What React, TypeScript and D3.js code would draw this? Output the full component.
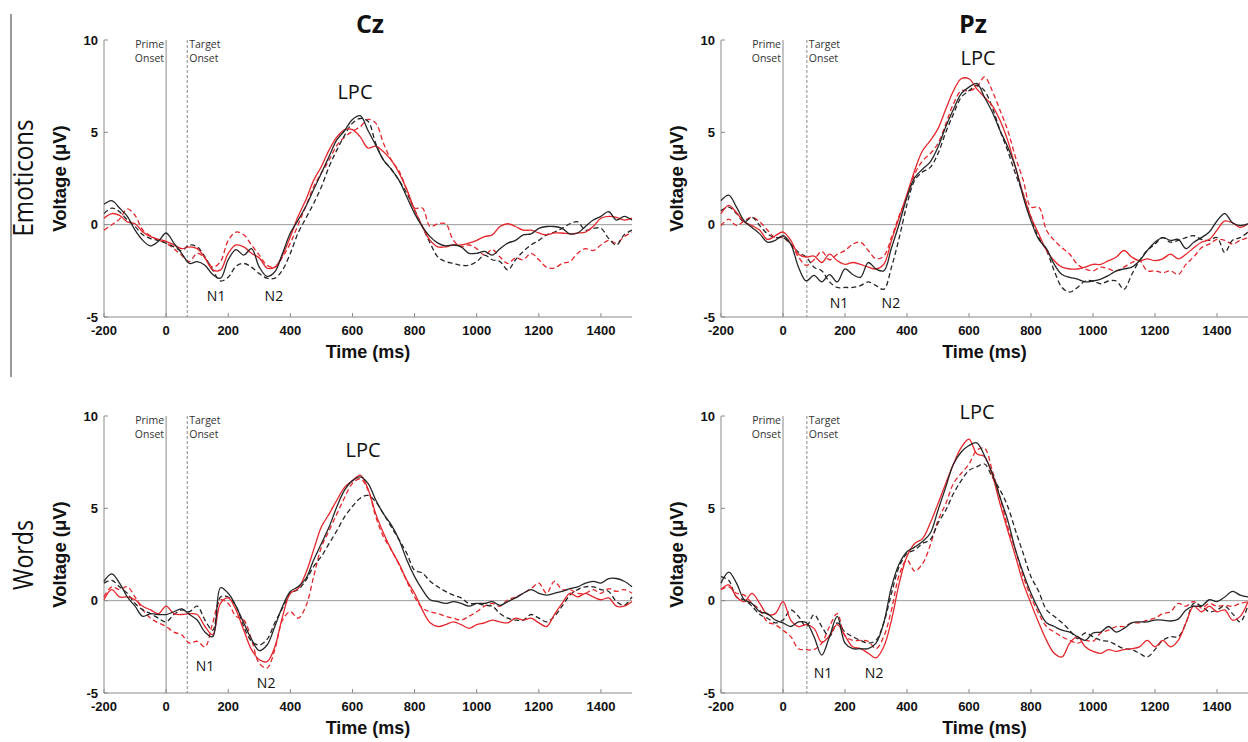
import React from 'react';
import * as d3 from 'd3';

// ---------- data ----------
const TIMES = d3.range(-200, 1501, 25); // ms, sampling grid of the traces
const X_TICKS = [-200, 0, 200, 400, 600, 800, 1000, 1200, 1400];
const Y_TICKS = [-5, 0, 5, 10];
const ELECTRODES = ['Cz', 'Pz'];
const ROWS = ['Emoticons', 'Words'];

// Cz – Emoticons
const czEmoBlackSolid = [
  1.1, 1.3, 0.9, 0.45, -0.3, -0.85, -1.15, -0.9,
  -0.45, -1.0, -1.55, -2.1, -2.0, -2.2, -2.7, -2.9,
  -1.9, -1.35, -1.65, -1.3, -2.3, -2.8, -2.55, -1.55,
  -0.45, 0.25, 1.0, 1.9, 2.8, 3.7, 4.6, 5.1,
  5.7, 5.9, 5.1, 4.3, 3.5, 3.0, 2.4, 1.5,
  0.6, -0.1, -0.65, -1.0, -1.15, -1.1, -1.2, -1.55,
  -1.55, -1.45, -1.65, -1.3, -1.0, -0.85, -0.55, -0.5,
  -0.2, -0.1, -0.1, -0.2, -0.5, -0.45, -0.1, 0.25,
  0.45, 0.7, 0.25, 0.45, 0.25,
];
const czEmoBlackDashed = [
  0.6, 0.9, 0.7, 0.25, -0.1, -0.55, -0.75, -0.85,
  -1.0, -1.2, -1.4, -1.1, -1.2, -1.75, -2.45, -3.05,
  -2.85, -2.25, -2.1, -2.3, -2.65, -2.9, -2.9, -2.45,
  -1.55, -0.45, 0.35, 1.15, 2.05, 3.15, 4.05, 4.85,
  5.5, 5.75, 5.6, 4.4, 3.5, 3.0, 2.4, 1.7,
  0.8, -0.1, -1.0, -1.75, -2.0, -2.1, -2.2, -2.2,
  -2.0, -1.65, -1.9, -2.0, -2.45, -1.9, -1.45, -1.1,
  -0.85, -0.55, -0.4, -0.2, 0.05, 0.15, -0.3, -0.2,
  -0.2, -0.75, -1.1, -0.55, -0.3,
];
const czEmoRedSolid = [
  0.35, 0.6, 0.5, 0.15, 0.05, -0.4, -0.65, -0.8,
  -0.9, -1.1, -1.3, -1.2, -1.3, -1.8, -2.45, -2.45,
  -1.55, -1.1, -1.2, -1.55, -1.8, -2.35, -2.3, -1.65,
  -0.65, 0.45, 1.35, 2.4, 3.15, 4.05, 4.75, 5.15,
  5.15, 4.75, 4.15, 4.25, 3.95, 3.5, 2.8, 1.9,
  0.8, -0.1, -0.85, -1.2, -1.2, -1.1, -1.1, -1.0,
  -0.85, -0.65, -0.55, -0.1, 0.05, -0.1, -0.3, -0.3,
  -0.45, -0.55, -0.45, -0.45, -0.5, -0.45, -0.4, -0.1,
  0.35, 0.45, 0.4, 0.25, 0.35,
];
const czEmoRedDashed = [
  -0.3, 0.0, 0.3, 0.85, 0.5, -0.3, -0.6, -0.85,
  -1.0, -1.3, -1.65, -2.0, -1.55, -1.8, -2.3, -2.0,
  -0.85, -0.4, -0.55, -1.1, -1.65, -2.2, -2.3, -1.75,
  -1.0, 0.0, 1.0, 2.05, 2.8, 3.5, 4.3, 4.75,
  5.05, 5.3, 5.7, 5.5, 4.4, 3.5, 2.9, 1.9,
  0.9, 0.9, -0.1, 0.05, 0.05, -0.85, -1.2, -1.1,
  -1.3, -1.65, -1.35, -1.75, -2.1, -1.8, -1.9, -1.55,
  -1.9, -2.3, -2.35, -2.1, -2.0, -1.55, -1.3, -1.4,
  -1.1, -0.85, -1.0, -0.65, -0.4,
];

// Pz – Emoticons
const pzEmoBlackSolid = [
  1.3, 1.6, 0.95, 0.2, -0.15, -0.5, -0.95, -0.85,
  -0.6, -1.05, -2.3, -3.05, -2.75, -3.1, -2.7, -3.1,
  -2.4, -2.7, -2.85, -2.05, -2.4, -2.5, -1.25, 0.05,
  1.5, 2.55, 3.0, 3.4, 4.2, 5.3, 6.25, 7.1,
  7.45, 7.65, 6.9, 6.1, 5.1, 4.2, 3.1, 1.5,
  0.2, -0.8, -1.3, -2.15, -2.7, -2.85, -2.95, -3.1,
  -3.05, -2.95, -2.75, -2.5, -2.4, -2.3, -1.95, -1.4,
  -0.95, -0.7, -0.85, -0.8, -1.3, -0.95, -0.7, -0.4,
  0.2, 0.6, 0.1, -0.05, 0.05,
];
const pzEmoBlackDashed = [
  0.75, 0.95, 0.6, 0.15, 0.4, -0.05, -0.5, -0.7,
  -0.7, -1.05, -1.5, -1.75, -2.3, -2.5, -3.1, -3.4,
  -3.4, -3.4, -3.3, -3.1, -3.3, -3.5, -2.3, -0.7,
  1.1, 2.4, 2.85, 3.1, 3.85, 5.0, 6.0, 6.9,
  7.25, 7.55, 7.25, 6.35, 5.1, 4.0, 2.75, 1.65,
  0.4, -0.7, -1.4, -2.5, -3.4, -3.65, -3.4, -3.05,
  -3.05, -3.2, -3.05, -3.05, -3.5, -2.7, -1.95, -1.4,
  -1.05, -0.7, -0.95, -0.85, -0.7, -0.6, -0.8, -0.85,
  -0.7, -1.5, -0.85, -0.7, -0.4,
];
const pzEmoRedSolid = [
  0.6, 1.05, 0.65, 0.15, -0.05, -0.3, -0.8, -0.6,
  -0.4, -0.85, -1.6, -1.75, -1.7, -2.05, -1.6, -1.95,
  -2.15, -2.05, -2.15, -2.3, -2.4, -2.15, -0.85, 0.4,
  1.65, 2.95, 4.0, 4.55, 5.2, 6.25, 7.25, 7.9,
  7.9, 7.35, 6.9, 6.45, 5.65, 4.55, 3.1, 1.65,
  0.4, -0.5, -1.4, -1.95, -2.3, -2.4, -2.4, -2.3,
  -2.15, -2.15, -1.95, -1.75, -1.4, -1.75, -1.95, -1.85,
  -1.95, -1.85, -1.6, -1.85, -1.6, -1.25, -0.95, -0.8,
  -0.3, 0.2, 0.1, -0.15, 0.05,
];
const pzEmoRedDashed = [
  -0.05, 0.3, -0.05, 0.2, 0.4, 0.15, -0.3, -0.7,
  -0.7, -1.05, -1.75, -2.2, -1.9, -1.45, -1.9, -1.6,
  -1.4, -1.05, -0.95, -1.4, -1.85, -1.7, -0.7, 0.5,
  1.5, 2.75, 3.45, 3.85, 4.4, 5.45, 6.55, 7.25,
  7.25, 7.45, 8.0, 7.25, 6.2, 5.1, 3.65, 2.4,
  0.95, 0.95, -0.3, -0.85, -1.25, -1.6, -2.15, -2.4,
  -2.5, -2.3, -2.4, -2.5, -2.3, -2.05, -1.95, -2.5,
  -2.5, -2.6, -2.5, -2.7, -2.15, -1.75, -1.25, -1.05,
  -0.8, -0.85, -1.05, -0.85, -0.7,
];

// Cz – Words
const czWrdBlackSolid = [
  1.05, 1.45, 0.95, 0.2, -0.3, -0.85, -0.7, -0.75,
  -0.75, -0.6, -0.45, -0.75, -1.05, -1.7, -1.95, 0.7,
  0.4, -0.3, -1.2, -2.1, -2.7, -2.4, -1.4, -0.3,
  0.5, 0.75, 1.2, 2.2, 3.1, 4.0, 5.1, 6.0,
  6.5, 6.7, 6.35, 5.45, 4.7, 4.1, 3.3, 2.2,
  1.3, 0.6, 0.05, -0.05, -0.15, -0.05, -0.15, -0.3,
  -0.15, -0.15, -0.05, -0.25, -0.05, 0.15, 0.4, 0.6,
  0.4, 0.3, 0.4, 0.5, 0.65, 0.75, 0.95, 1.05,
  0.95, 1.2, 1.2, 1.05, 0.75,
];
const czWrdBlackDashed = [
  0.95, 1.1, 0.75, 0.4, -0.15, -0.5, -0.7, -0.95,
  -1.15, -0.75, -0.5, -0.6, -0.3, -1.05, -1.6, 0.2,
  0.2, -0.3, -1.4, -2.2, -2.4, -2.1, -1.2, -0.4,
  0.4, 0.6, 1.1, 1.85, 2.4, 3.1, 3.8, 4.55,
  5.1, 5.55, 5.7, 5.35, 4.7, 4.0, 3.3, 2.55,
  1.65, 1.5, 1.05, 0.75, 0.5, 0.3, 0.15, -0.15,
  -0.15, -0.25, -0.3, -0.7, -0.95, -1.05, -1.05, -0.75,
  -0.95, -1.15, -0.85, -0.3, 0.3, 0.6, 0.75, 0.75,
  0.6, 0.5, -0.05, -0.25, 0.2,
];
const czWrdRedSolid = [
  0.05, 0.6, 0.2, 0.2, 0.05, -0.3, -0.5, -0.7,
  -0.3, -0.7, -0.75, -0.7, -0.75, -1.4, -1.85, -0.15,
  0.15, -0.5, -1.6, -2.65, -3.2, -3.3, -2.5, -0.85,
  0.4, 0.65, 1.5, 2.75, 4.0, 4.7, 5.45, 6.15,
  6.5, 6.8, 6.05, 4.7, 3.65, 2.75, 2.0, 1.1,
  0.4, -0.5, -1.2, -1.4, -1.3, -1.15, -1.3, -1.5,
  -1.3, -1.2, -1.05, -1.15, -1.2, -0.95, -1.05, -0.95,
  -1.2, -1.4, -0.75, -0.15, 0.4, 0.2, 0.4, 0.2,
  0.05, 0.15, -0.3, -0.3, -0.05,
];
const czWrdRedDashed = [
  0.2, 0.75, 0.6, 0.75, 0.2, -0.5, -0.95, -1.2,
  -1.4, -1.7, -1.85, -2.3, -2.2, -2.5, -1.2, 0.05,
  -0.15, -0.85, -1.05, -2.1, -3.4, -3.65, -2.65, -1.05,
  -0.6, -0.95, -0.3, 1.3, 2.9, 3.8, 4.7, 5.6,
  6.35, 6.6, 6.0, 4.55, 3.45, 2.75, 1.95, 1.05,
  0.2, -0.4, -0.6, -0.7, -0.85, -0.95, -1.05, -0.85,
  -0.6, -0.3, -0.15, -0.3, 0.05, 0.2, 0.4, 0.65,
  0.95, 0.4, 1.05, 0.6, 0.6, 0.4, 0.4, 0.6,
  0.4, 0.65, 0.5, 0.6, 0.4,
];

// Pz – Words
const pzWrdBlackSolid = [
  0.95, 1.55, 0.95, 0.05, -0.15, -0.6, -0.7, -1.05,
  -1.2, -1.4, -1.15, -1.2, -1.95, -2.95, -1.95, -0.85,
  -2.3, -2.6, -2.6, -2.6, -2.3, -1.2, 0.75, 2.0,
  2.65, 2.9, 3.2, 3.65, 4.9, 6.15, 7.4, 8.05,
  8.4, 8.55, 7.85, 6.9, 5.6, 4.35, 2.75, 1.5,
  0.4, -0.5, -1.2, -1.4, -1.6, -1.7, -1.95, -2.15,
  -1.75, -1.7, -1.4, -1.7, -1.5, -1.2, -1.15, -1.15,
  -1.05, -1.05, -1.1, -1.0, -0.5, -0.3, -0.3, 0.05,
  -0.05, 0.2, 0.5, 0.3, 0.2,
];
const pzWrdBlackDashed = [
  1.3, 1.1, 0.2, 0.05, -0.3, -0.75, -0.95, -1.2,
  -1.05, -0.5, -0.85, -1.4, -0.75, -1.4, -1.95, -1.2,
  -1.7, -1.95, -2.15, -2.3, -2.15, -1.2, 0.4, 1.85,
  2.55, 2.75, 3.1, 3.3, 4.2, 4.9, 5.8, 6.5,
  7.05, 7.25, 7.4, 6.7, 6.0, 5.1, 3.8, 2.55,
  1.3, 0.5, -0.5, -0.85, -1.2, -1.6, -2.05, -1.75,
  -1.95, -2.15, -2.2, -2.4, -2.6, -2.65, -2.85, -3.05,
  -2.65, -2.15, -1.95, -1.95, -1.2, -0.15, -0.3, -0.6,
  -0.5, -0.3, -0.7, -1.15, -0.25,
];
const pzWrdRedSolid = [
  0.6, 0.85, 0.2, -0.05, 0.4, -0.15, -0.75, -0.7,
  -0.05, -1.05, -1.4, -1.3, -1.5, -2.25, -1.9, -1.3,
  -1.9, -2.5, -2.6, -2.85, -3.1, -2.5, -1.05, 0.95,
  2.4, 3.1, 3.35, 4.2, 5.25, 6.35, 7.4, 8.3,
  8.75, 7.95, 7.8, 6.8, 5.25, 3.8, 2.4, 0.95,
  -0.15, -1.2, -2.15, -2.85, -3.05, -2.3, -1.95, -2.5,
  -2.75, -2.85, -2.65, -2.75, -2.65, -2.6, -2.5, -2.15,
  -2.5, -2.15, -2.5, -2.15, -1.2, -0.3, -0.6, -0.3,
  -0.6, -0.5, -1.05, -0.85, -0.05,
];
const pzWrdRedDashed = [
  0.6, 0.75, 0.4, 0.3, -0.15, -0.5, -1.15, -1.3,
  -1.6, -1.95, -2.6, -2.65, -2.65, -2.3, -1.4, -0.7,
  -1.9, -2.15, -2.15, -2.2, -2.6, -1.95, -0.5, 1.4,
  2.2, 1.6, 2.0, 3.0, 4.35, 5.25, 6.35, 6.9,
  7.4, 8.15, 8.25, 7.05, 5.6, 4.0, 2.75, 1.3,
  0.2, -0.7, -1.4, -1.7, -1.95, -2.15, -2.3, -2.15,
  -2.2, -1.75, -1.6, -1.4, -1.4, -1.2, -1.2, -1.05,
  -0.95, -0.7, -0.6, -0.15, -0.3, -0.05, -0.4, -0.15,
  -0.3, -0.25, -0.3, -0.15, -0.05,
];

// component labels: [text, time (ms), voltage (µV)]
const czEmoLabels: [string, number, number][] = [['N1', 161, -3.85], ['N2', 347, -3.85], ['LPC', 608, 7.2]];
const pzEmoLabels: [string, number, number][] = [['N1', 181, -4.23], ['N2', 348, -4.23], ['LPC', 629, 9.05]];
const czWrdLabels: [string, number, number][] = [['N1', 125, -3.53], ['N2', 322, -4.45], ['LPC', 634, 8.15]];
const pzWrdLabels: [string, number, number][] = [['N1', 129, -3.91], ['N2', 294, -3.91], ['LPC', 626, 10.2]];

const TARGET_ONSET = { Cz: 68, Pz: 77 };

// ---------- styles ----------
const BLACK = '#262626';
const RED = '#e5262b';
const AXIS = '#8a8a8a';
const SANS = "'Liberation Sans', Arial, sans-serif";
const HUMAN = "'Open Sans', 'Noto Sans', sans-serif";

type Panel = {
  electrode: string;
  row: number;
  x0: number; x1: number; yTop: number; yBot: number;
  series: { values: number[]; color: string; dashed: boolean }[];
  labels: [string, number, number][];
};

const mk = (bs: number[], bd: number[], rs: number[], rd: number[]) => [
  { values: rd, color: RED, dashed: true },
  { values: bd, color: BLACK, dashed: true },
  { values: rs, color: RED, dashed: false },
  { values: bs, color: BLACK, dashed: false },
];

const PANELS: Panel[] = [
  { electrode: 'Cz', row: 0, x0: 104, x1: 632, yTop: 40, yBot: 317,
    series: mk(czEmoBlackSolid, czEmoBlackDashed, czEmoRedSolid, czEmoRedDashed), labels: czEmoLabels },
  { electrode: 'Pz', row: 0, x0: 721, x1: 1248, yTop: 40, yBot: 317,
    series: mk(pzEmoBlackSolid, pzEmoBlackDashed, pzEmoRedSolid, pzEmoRedDashed), labels: pzEmoLabels },
  { electrode: 'Cz', row: 1, x0: 104, x1: 632, yTop: 416, yBot: 693,
    series: mk(czWrdBlackSolid, czWrdBlackDashed, czWrdRedSolid, czWrdRedDashed), labels: czWrdLabels },
  { electrode: 'Pz', row: 1, x0: 721, x1: 1248, yTop: 416, yBot: 693,
    series: mk(pzWrdBlackSolid, pzWrdBlackDashed, pzWrdRedSolid, pzWrdRedDashed), labels: pzWrdLabels },
];

function ErpPanel({ p }: { p: Panel }) {
  const xs = d3.scaleLinear().domain([-200, 1500]).range([p.x0, p.x1]);
  const ys = d3.scaleLinear().domain([-5, 10]).range([p.yBot, p.yTop]);
  const line = d3
    .line<number>()
    .x((_, i) => xs(TIMES[i]))
    .y((d) => ys(d))
    .curve(d3.curveCatmullRom.alpha(0.5));
  const target = (TARGET_ONSET as any)[p.electrode] as number;
  const midX = (p.x0 + p.x1) / 2;
  const midY = (p.yTop + p.yBot) / 2;
  return (
    <g>
      {/* reference lines */}
      <line x1={p.x0} x2={p.x1} y1={ys(0)} y2={ys(0)} stroke="#9a9a9a" strokeWidth={1} />
      <line x1={xs(0)} x2={xs(0)} y1={p.yTop} y2={p.yBot} stroke="#8a8a8a" strokeWidth={1} />
      <line x1={xs(target)} x2={xs(target)} y1={p.yTop} y2={p.yBot} stroke="#8a8a8a" strokeWidth={1} strokeDasharray="3,2" />
      <text x={xs(0) - 2} y={p.yTop + 8} textAnchor="end" fontFamily={HUMAN} fontSize={10.5} fill="#333">Prime</text>
      <text x={xs(0) - 2} y={p.yTop + 22} textAnchor="end" fontFamily={HUMAN} fontSize={10.5} fill="#333">Onset</text>
      <text x={xs(target) + 2} y={p.yTop + 8} fontFamily={HUMAN} fontSize={10.5} fill="#333">Target</text>
      <text x={xs(target) + 2} y={p.yTop + 22} fontFamily={HUMAN} fontSize={10.5} fill="#333">Onset</text>

      {/* axes */}
      <line x1={p.x0} x2={p.x0} y1={p.yTop} y2={p.yBot} stroke={AXIS} strokeWidth={1} />
      <line x1={p.x0} x2={p.x1} y1={p.yBot} y2={p.yBot} stroke={AXIS} strokeWidth={1} />
      {Y_TICKS.map((t) => (
        <g key={'y' + t}>
          <line x1={p.x0} x2={p.x0 + 4} y1={ys(t)} y2={ys(t)} stroke={AXIS} />
          <text x={p.x0 - 6} y={ys(t)} dy="0.35em" textAnchor="end" fontFamily={SANS} fontWeight="bold" fontSize={13} fill="#111">{t}</text>
        </g>
      ))}
      {X_TICKS.map((t) => (
        <g key={'x' + t}>
          <line x1={xs(t)} x2={xs(t)} y1={p.yBot} y2={p.yBot - 4} stroke={AXIS} />
          <text x={xs(t)} y={p.yBot + 18} textAnchor="middle" fontFamily={SANS} fontWeight="bold" fontSize={13} fill="#111">{t}</text>
        </g>
      ))}
      <text x={midX} y={p.yBot + 41} textAnchor="middle" fontFamily={SANS} fontWeight="bold" fontSize={18} fill="#111">Time (ms)</text>
      <text transform={`translate(${p.x0 - 38},${midY}) rotate(-90)`} textAnchor="middle" fontFamily={SANS} fontWeight="bold" fontSize={18.5} fill="#111">Voltage (μV)</text>

      {/* traces */}
      {p.series.map((s, i) => (
        <path key={i} d={line(s.values) || ''} fill="none" stroke={s.color} strokeWidth={1.3}
          strokeDasharray={s.dashed ? '5,3' : undefined} strokeLinejoin="round" />
      ))}

      {/* component labels */}
      {p.labels.map(([txt, t, v]) => (
        <text key={txt} x={xs(t)} y={ys(v)} dy="0.35em" textAnchor="middle" fontFamily={HUMAN}
          fontSize={txt === 'LPC' ? 20 : 14} fill="#111">{txt}</text>
      ))}
    </g>
  );
}

export default function App() {
  return (
    <svg width={1248} height={742} viewBox="0 0 1248 742"
      style={{ position: 'absolute', left: 0, top: 0, background: '#fff' }}>
      <rect x={0} y={0} width={1248} height={742} fill="#fff" />
      {/* electrode titles */}
      <text x={370} y={33} textAnchor="middle" fontFamily={HUMAN} fontWeight="bold" fontSize={25} fill="#111">{ELECTRODES[0]}</text>
      <text x={973} y={33} textAnchor="middle" fontFamily={HUMAN} fontWeight="bold" fontSize={25} fill="#111">{ELECTRODES[1]}</text>
      {/* row labels */}
      <line x1={11} x2={11} y1={14} y2={377} stroke="#555" strokeWidth={1.2} />
      <text transform="translate(33,178) rotate(-90)" textAnchor="middle" fontFamily={HUMAN} fontSize={27}
        textLength={117} lengthAdjust="spacingAndGlyphs" fill="#111">{ROWS[0]}</text>
      <text transform="translate(33,555) rotate(-90)" textAnchor="middle" fontFamily={HUMAN} fontSize={27}
        textLength={70} lengthAdjust="spacingAndGlyphs" fill="#111">{ROWS[1]}</text>
      {PANELS.map((p, i) => (
        <ErpPanel key={i} p={p} />
      ))}
    </svg>
  );
}
